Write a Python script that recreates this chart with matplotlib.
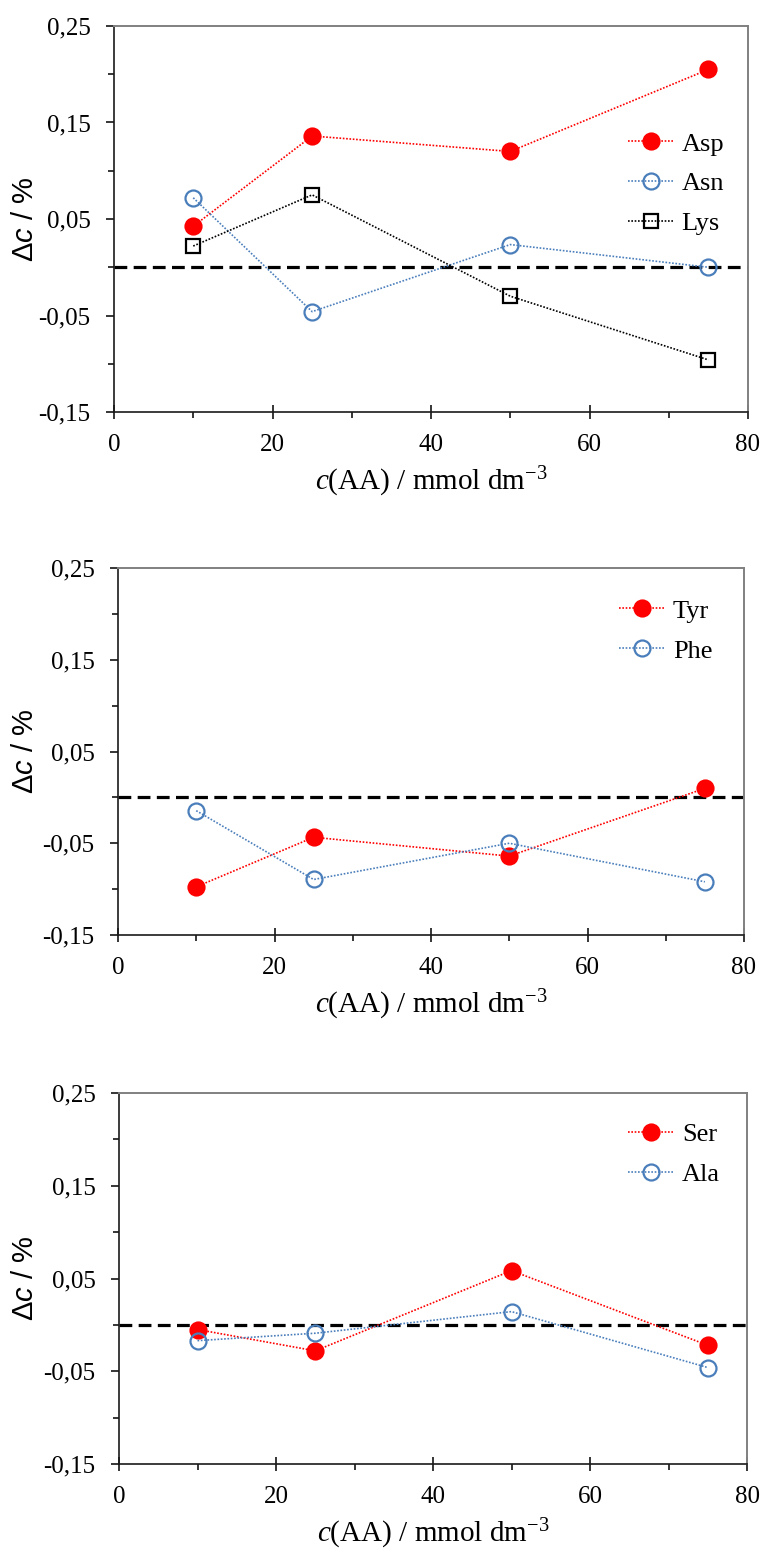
import matplotlib
matplotlib.use("Agg")
import matplotlib.pyplot as plt
from matplotlib.ticker import FixedLocator, FuncFormatter

# ---- data ----
x_conc = [10, 25, 50, 75]

asp = [0.0425, 0.136, 0.120, 0.205]
asn = [0.072, -0.046, 0.0235, 0.000]
lys = [0.022, 0.075, -0.030, -0.096]

tyr = [-0.0975, -0.0435, -0.064, 0.0098]
phe = [-0.0145, -0.0895, -0.050, -0.092]

ser = [-0.005, -0.028, 0.0585, -0.022]
ala = [-0.017, -0.009, 0.0143, -0.046]

y_major = [-0.15, -0.05, 0.05, 0.15, 0.25]
y_minor = [-0.10, 0.0, 0.10, 0.20]
x_major = [0, 20, 40, 60, 80]
x_minor = [10, 30, 50, 70]

RED = "#FF0000"
BLUE = "#4A7EBB"
BLACK = "#000000"

W, H = 764, 1549

plt.rcParams["mathtext.fontset"] = "custom"
plt.rcParams["mathtext.it"] = "Liberation Serif:italic"
plt.rcParams["mathtext.rm"] = "Liberation Serif"
plt.rcParams["mathtext.sf"] = "Liberation Sans:italic"

fig = plt.figure(figsize=(W / 100, H / 100), dpi=100)

SERIF = ["Liberation Serif", "DejaVu Serif"]
SANS = ["Liberation Sans", "DejaVu Sans"]


def make_axes(left, right, top, bottom):
    return fig.add_axes([left / W, 1 - bottom / H, (right - left) / W, (bottom - top) / H])


def style(ax, left_px):
    ax.set_xlim(0, 80)
    ax.set_ylim(-0.15, 0.25)
    ax.xaxis.set_major_locator(FixedLocator(x_major))
    ax.xaxis.set_minor_locator(FixedLocator(x_minor))
    ax.yaxis.set_major_locator(FixedLocator(y_major))
    ax.yaxis.set_minor_locator(FixedLocator(y_minor))
    ax.yaxis.set_major_formatter(FuncFormatter(lambda v, p: f"{v:.2f}".replace(".", ",")))
    ax.xaxis.set_major_formatter(FuncFormatter(lambda v, p: f"{v:.0f}"))
    ax.tick_params(axis="both", which="both", labelsize=18, labelfontfamily="Liberation Serif",
                   colors="black")
    ax.tick_params(axis="x", which="major", direction="inout", length=10, width=1.1, pad=11)
    ax.tick_params(axis="x", which="minor", direction="out", length=4, width=1.1)
    ax.tick_params(axis="y", which="major", direction="out", length=6, width=1.1, pad=11)
    ax.tick_params(axis="y", which="minor", direction="out", length=4, width=1.1)
    for s in ["left", "bottom"]:
        ax.spines[s].set_color("#1a1a1a")
        ax.spines[s].set_linewidth(1.2)
    for s in ["top", "right"]:
        ax.spines[s].set_color("#808080")
        ax.spines[s].set_linewidth(1.4)
    ax.axhline(0, color="black", lw=2.3, dashes=(4, 2), zorder=1)
    ax.set_xlabel(r"$c$(AA) / mmol dm$^{-3}$", fontsize=21, fontfamily=SERIF, labelpad=6)
    ax.set_ylabel("Δ$\\mathsf{c}$ / %", fontsize=21, fontfamily=SANS)
    width_px = ax.get_position().width * W
    ax.yaxis.set_label_coords((39 - left_px) / width_px, 0.5)


def series(ax, y, label, color, marker, filled):
    ax.plot(x_conc, y, color=color, lw=1.2, ls=(0, (1, 1)),
            marker=marker, ms=11.5 if marker == "o" else 10.5,
            mfc=color if filled else "none", mec=color, mew=1.6,
            label=label, zorder=3)


def legend(ax, ax_x, ax_y):
    ax.legend(loc="upper left", bbox_to_anchor=(ax_x, ax_y), frameon=False,
              prop={"family": SERIF, "size": 19}, handlelength=1.75,
              handletextpad=0.3, labelspacing=0.62, borderaxespad=0, borderpad=0)


# ---- panel 1 ----
ax1 = make_axes(114, 748, 26, 412)
series(ax1, asp, "Asp", RED, "o", True)
series(ax1, asn, "Asn", BLUE, "o", False)
series(ax1, lys, "Lys", BLACK, "s", False)
style(ax1, 114)
legend(ax1, 0.81, 0.725)

# ---- panel 2 ----
ax2 = make_axes(118, 744, 568, 935)
series(ax2, tyr, "Tyr", RED, "o", True)
series(ax2, phe, "Phe", BLUE, "o", False)
style(ax2, 118)
legend(ax2, 0.80, 0.915)

# ---- panel 3 ----
ax3 = make_axes(119, 747, 1093, 1464)
series(ax3, ser, "Ser", RED, "o", True)
series(ax3, ala, "Ala", BLUE, "o", False)
style(ax3, 119)
legend(ax3, 0.81, 0.92)

fig.savefig("out.png", dpi=100)
